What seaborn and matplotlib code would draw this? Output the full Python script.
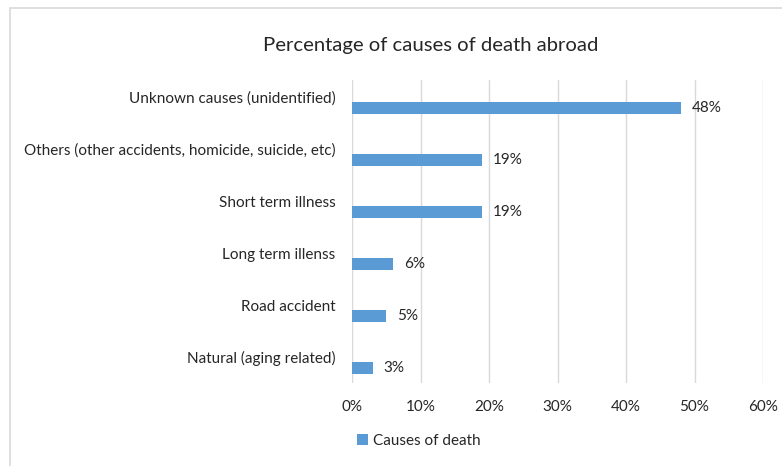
import numpy as np
import pandas as pd
import matplotlib.pyplot as plt
import seaborn as sns
from matplotlib.patches import Rectangle

causes = ["Unknown causes (unidentified)",
          "Others (other accidents, homicide, suicide, etc)",
          "Short term illness",
          "Long term illenss",
          "Road accident",
          "Natural (aging related)"]
values = [48, 19, 19, 6, 5, 3]
xticks = [0, 10, 20, 30, 40, 50, 60]

df = pd.DataFrame({"cause": causes, "value": values})

sns.set_style("white")
plt.rcParams['font.family'] = ['Lato', 'DejaVu Sans']

fig = plt.figure(figsize=(7.82, 4.66), dpi=100)
ax = fig.add_axes([352/782, 1-383/466, (763-352)/782, (383-80)/466])

# chart border
fig.patches.append(Rectangle((10/782, -0.1), 1.2, 1-8/466+0.1, transform=fig.transFigure,
                             fill=False, edgecolor='#d9d9d9', lw=1.2))

sns.barplot(data=df, x="value", y="cause", orient="h", width=0.23,
            color="#5b9bd5", saturation=1, linewidth=0,
            label="Causes of death", ax=ax)
if ax.get_legend() is not None:
    ax.get_legend().remove()

ax.bar_label(ax.containers[0], labels=[f"{v}%" for v in values],
             padding=8, fontsize=11, color='#262626')

ax.set_xlim(0, 60)
ax.set_ylim(5.29, -0.54)
ax.set_xticks(xticks, labels=[f"{t}%" for t in xticks])
ax.set_yticks(np.arange(len(causes)) - 0.21, labels=causes)
ax.tick_params(axis='y', length=0, pad=12, labelsize=11, labelcolor='#262626')
ax.tick_params(axis='x', length=0, pad=12, labelsize=11, labelcolor='#262626')
ax.set_xlabel("")
ax.set_ylabel("")
for s in ax.spines.values():
    s.set_visible(False)
ax.grid(axis='x', color='#d9d9d9', lw=1)
ax.set_axisbelow(True)

fig.text(431/782, 1-45/466, "Percentage of causes of death abroad",
         ha='center', va='center', fontsize=14.6, color='#262626')

handles, labels = ax.get_legend_handles_labels()
fig.legend(handles, labels, loc='center left', bbox_to_anchor=(343/782, 1-441/466),
           frameon=False, handlelength=0.75, handleheight=0.75, handletextpad=0.3,
           fontsize=11, labelcolor='#262626')

fig.savefig("out.png", dpi=100)
